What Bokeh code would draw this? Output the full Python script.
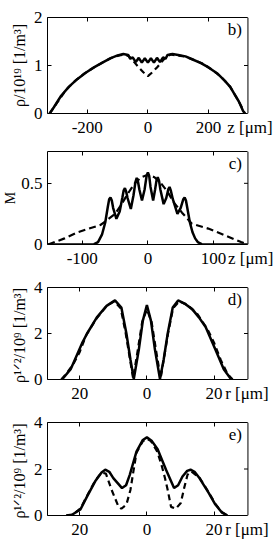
from bokeh.plotting import figure
from bokeh.models import Range1d, LinearAxis, Label, FixedTicker, Span
from bokeh.layouts import column
from bokeh.embed import file_html
from bokeh.resources import INLINE

FONT = "Liberation Serif"

# ---------------- data ----------------
# panel b) density along z
b_solid_z = [-324, -310, -286, -260, -232, -205, -178, -150, -124, -100, -81,
             -65, -58, -50, -40, -30, -20, -10, 0, 10, 20, 30, 40, 50, 58, 65,
             81, 100, 124, 146, 175, 200, 228, 254, 272, 286, 300, 314, 320]
b_solid_rho = [0, 0.13, 0.37, 0.56, 0.72, 0.85, 0.96, 1.06, 1.15, 1.21, 1.24,
               1.22, 1.14, 1.17, 1.07, 1.16, 1.06, 1.15, 1.06, 1.15, 1.06, 1.16, 1.07, 1.17, 1.14, 1.22,
               1.24, 1.22, 1.19, 1.13, 1.05, 0.96, 0.84, 0.68, 0.55, 0.40, 0.25, 0.05, 0]
b_dash_z = [-324, -300, -270, -240, -210, -180, -150, -120, -95, -75,
            -60, -45, -30, -15, 0, 15, 30, 45, 60, 75,
            95, 120, 150, 180, 210, 240, 270, 300, 316, 320]
b_dash_rho = [0, 0.22, 0.49, 0.68, 0.83, 0.95, 1.06, 1.16, 1.21, 1.23,
              1.18, 1.07, 0.96, 0.86, 0.78, 0.86, 0.96, 1.07, 1.18, 1.23,
              1.21, 1.19, 1.12, 1.04, 0.92, 0.77, 0.57, 0.25, 0.05, 0]

# panel c) M along z
c_solid_z = [-152, -90, -82, -76, -70, -65, -61, -59, -57, -55, -53, -48,
             -43, -39, -37, -35, -33, -31, -26, -22, -19, -17, -15, -13, -9, -5,
             -2, 0, 2, 4, 8, 11, 13, 15, 17, 19, 24, 28, 31, 33, 35, 38,
             45, 50, 54, 56, 58, 60, 64, 68, 72, 76, 82, 152]
c_solid_m = [0, 0, 0.003, 0.02, 0.08, 0.18, 0.31, 0.37, 0.385, 0.36, 0.30, 0.21,
             0.27, 0.38, 0.44, 0.46, 0.43, 0.38, 0.29, 0.40, 0.51, 0.545, 0.51, 0.45, 0.36, 0.45,
             0.56, 0.59, 0.56, 0.47, 0.36, 0.45, 0.52, 0.55, 0.52, 0.45, 0.33, 0.38, 0.45, 0.47, 0.44, 0.37,
             0.25, 0.30, 0.37, 0.385, 0.36, 0.30, 0.18, 0.10, 0.05, 0.02, 0.003, 0]
c_dash_z = [-152, -127, -107, -87, -72, -62, -50, -40, -30, -20, -10,
            0, 10, 20, 30, 40, 52, 67, 92, 117, 142, 152]
c_dash_m = [0, 0.05, 0.10, 0.135, 0.16, 0.20, 0.25, 0.33, 0.42, 0.50, 0.55,
            0.57, 0.55, 0.50, 0.43, 0.34, 0.26, 0.17, 0.13, 0.076, 0.02, 0]

# panel d) sqrt density along r
d_solid_r = [-25.3, -24.7, -22.7, -20.8, -19.3, -17.8, -14.9, -12.0, -9.5, -7.6,
             -6.1, -4.9, -3.9, -2.4, -1.2, 0, 1.2, 2.4, 3.9, 5.0,
             6.2, 7.7, 9.3, 11.2, 13.5, 15.5, 17.5, 20.4, 22.9, 24.8, 25.5]
d_solid_v = [0, 0.1, 0.45, 1.08, 1.58, 2.0, 2.7, 3.2, 3.44, 3.13,
             2.0, 0.87, 0.02, 1.3, 2.56, 3.24, 2.56, 1.3, 0.02, 0.87,
             2.0, 3.13, 3.44, 3.3, 3.06, 2.7, 2.28, 1.3, 0.45, 0.07, 0]
d_dash_r = [-25.5, -24, -22, -20, -18, -15, -12, -9.7, -7.8, -6.3,
            -5, -4.1, -2.8, -1.4, 0, 1.4, 2.8, 4.1, 5, 6.3,
            7.8, 9.7, 12, 15, 18, 20, 22, 24, 25.5]
d_dash_v = [0, 0.25, 0.65, 1.2, 1.95, 2.65, 3.2, 3.4, 3.1, 2.0,
            0.85, 0.05, 1.2, 2.5, 3.05, 2.5, 1.2, 0.05, 0.85, 2.0,
            3.1, 3.4, 3.25, 2.85, 2.2, 1.6, 0.85, 0.25, 0]

# panel e) sqrt density along r
e_solid_r = [-24, -22.3, -19.8, -17.8, -15.4, -13.5, -12.4, -11.2, -10, -7.4, -6.2, -5.1, -3.1, -1.2, 0,
             1.5, 3.2, 5.7, 8.1, 9.3, 10.6, 12, 13, 14.2, 15.7, 18.4, 20.4, 22.4, 24]
e_solid_v = [0, 0.03, 0.26, 0.82, 1.47, 1.85, 1.97, 1.88, 1.61, 1.18, 1.3, 1.75, 2.75, 3.25, 3.36,
             3.2, 2.85, 1.97, 1.18, 1.3, 1.68, 1.92, 1.97, 1.88, 1.6, 0.97, 0.47, 0.12, 0]
e_dash_r = [-24, -22.3, -19.8, -17.8, -15.4, -13.5, -12.2, -10.5, -8.5, -7.6,
            -6.1, -4.9, -4.1, -3.1, -1.2, 0, 1.2, 3.1, 4.5, 5.4,
            6.2, 7.2, 8.6, 10.1, 11.1, 12.1, 13.2, 15.7, 18.4, 20.4,
            22.4, 24]
e_dash_v = [0, 0.03, 0.3, 0.85, 1.5, 1.85, 1.8, 1.1, 0.4, 0.29,
            0.47, 1.1, 1.82, 2.7, 3.2, 3.3, 3.2, 2.75, 2.1, 1.6,
            1.1, 0.37, 0.29, 0.54, 1.18, 1.75, 1.9, 1.62, 1.0, 0.5,
            0.14, 0]

# ticks and labels
b_xticks = [-200, 0, 200]
b_xlabels = {-200: "-200", 0: "0", 200: "200"}
b_yticks = [0, 1, 2]
c_xticks = [-100, 0, 100]
c_xlabels = {-100: "-100", 0: "0", 100: "100"}
c_yticks = [0, 0.5]
c_ylabels = {0: "0", 0.5: "0.5"}
r_xticks = [-20, 0, 20]
r_xlabels = {-20: "20", 0: "0", 20: "20"}
r_yticks = [0, 2, 4]

TICK_FS = "17px"
BOX_W = 204      # width of the drawn box in px
FRAME_W = 230    # frame reaches the right edge so the axis title fits


def base_axis(ax, ticks):
    ax.ticker = FixedTicker(ticks=ticks, minor_ticks=[])
    ax.major_tick_in = 4
    ax.major_tick_out = 0
    ax.minor_tick_in = 0
    ax.minor_tick_out = 0
    ax.axis_line_color = "black"
    ax.major_tick_line_color = "black"
    ax.major_label_text_font = FONT
    ax.major_label_text_color = "black"
    ax.major_label_text_font_size = TICK_FS


def hide_labels(ax, ticks):
    ax.major_label_overrides = {t: "" for t in ticks}
    ax.major_label_text_font_size = "0px"
    ax.major_label_standoff = 0


def make_panel(box_x, yr, xticks, xlabels, yticks, ylabels, height, top, bottom,
               ytitle, ytitle_fs, ytitle_standoff, ytick_standoff, xtitle, xtitle_dpx, letter):
    x0, x1 = box_x
    per_px = (x1 - x0) / BOX_W
    x_end = x0 + FRAME_W * per_px
    p = figure(width=273, height=height,
               x_range=Range1d(x0, x_end), y_range=Range1d(*yr),
               output_backend="svg", toolbar_location=None,
               min_border_left=43, min_border_right=0,
               min_border_top=top, min_border_bottom=bottom)
    p.grid.visible = False
    p.outline_line_color = None
    p.background_fill_color = "white"
    p.border_fill_color = "white"

    # bottom box edge with inside ticks
    bx = p.xaxis[0]
    base_axis(bx, xticks)
    hide_labels(bx, xticks)
    bx.bounds = (x0, x1)

    # tick labels row (with axis title at the end)
    title_pos = round(x1 + xtitle_dpx * per_px, 3)
    lab_ticks = xticks + [title_pos]
    lx = LinearAxis()
    base_axis(lx, lab_ticks)
    lx.axis_line_color = None
    lx.major_tick_line_color = None
    lx.major_label_standoff = 4
    overrides = dict(xlabels)
    overrides[title_pos] = xtitle
    lx.major_label_overrides = overrides
    p.add_layout(lx, "below")

    # top box edge
    tx = LinearAxis()
    base_axis(tx, xticks)
    hide_labels(tx, xticks)
    tx.bounds = (x0, x1)
    p.add_layout(tx, "above")

    # left axis with labels and title
    ly = p.yaxis[0]
    base_axis(ly, yticks)
    ly.major_label_standoff = ytick_standoff
    if ylabels:
        ly.major_label_overrides = ylabels
    ly.axis_label = ytitle
    ly.axis_label_standoff = ytitle_standoff
    ly.axis_label_text_font = FONT
    ly.axis_label_text_font_style = "normal"
    ly.axis_label_text_font_size = ytitle_fs
    ly.axis_label_text_color = "black"

    # right box edge with inside ticks
    p.add_layout(Span(location=x1, dimension="height", line_color="black", line_width=1))
    p.segment(x0=[x1] * len(yticks), y0=yticks,
              x1=[x1 - 4 * per_px] * len(yticks), y1=yticks,
              line_color="black", line_width=1)

    p.add_layout(Label(x=x1, y=yr[1], text=letter,
                       text_align="right", text_baseline="top",
                       x_offset=-6, y_offset=-2,
                       text_font=FONT, text_font_size="17px", text_color="black"))
    return p


SOLID_W = 2.5
DASH_W = 2.2

pb = make_panel((-331, 330), (0, 2), b_xticks, b_xlabels, b_yticks, None,
                139, 17, 26, "ρ/10¹⁹ [1/m³]", "16px", 3, 5, "z [μm]", 2, "b)")
pb.line(b_solid_z, b_solid_rho, line_color="black", line_width=SOLID_W)
pb.line(b_dash_z, b_dash_rho, line_color="black", line_width=DASH_W, line_dash="6 4")

pc = make_panel((-153, 152.5), (0, 0.76), c_xticks, c_xlabels, c_yticks, c_ylabels,
                131, 12, 24, "M", "14px", 0, 5, "z [μm]", 7, "c)")
pc.line(c_solid_z, c_solid_m, line_color="black", line_width=SOLID_W)
pc.line(c_dash_z, c_dash_m, line_color="black", line_width=DASH_W, line_dash="7 4")

pd_ = make_panel((-29.6, 30.1), (0, 4), r_xticks, r_xlabels, r_yticks, None,
                 135, 17, 24, "ρ¹ᐟ²/10⁹  [1/m³]", "16px", 3, 5, "r [μm]", -1, "d)")
pd_.line(d_solid_r, d_solid_v, line_color="black", line_width=SOLID_W)
pd_.line(d_dash_r, d_dash_v, line_color="black", line_width=DASH_W, line_dash="6 4")

pe = make_panel((-29.6, 30.1), (0, 4), r_xticks, r_xlabels, r_yticks, None,
                138, 17, 28, "ρ¹ᐟ²/10⁹  [1/m³]", "16px", 3, 5, "r [μm]", -1, "e)")
pe.line(e_solid_r, e_solid_v, line_color="black", line_width=SOLID_W)
pe.line(e_dash_r, e_dash_v, line_color="black", line_width=DASH_W, line_dash="6 4")

layout = column(pb, pc, pd_, pe, spacing=0)
open("out.html", "w").write(file_html(layout, INLINE))
